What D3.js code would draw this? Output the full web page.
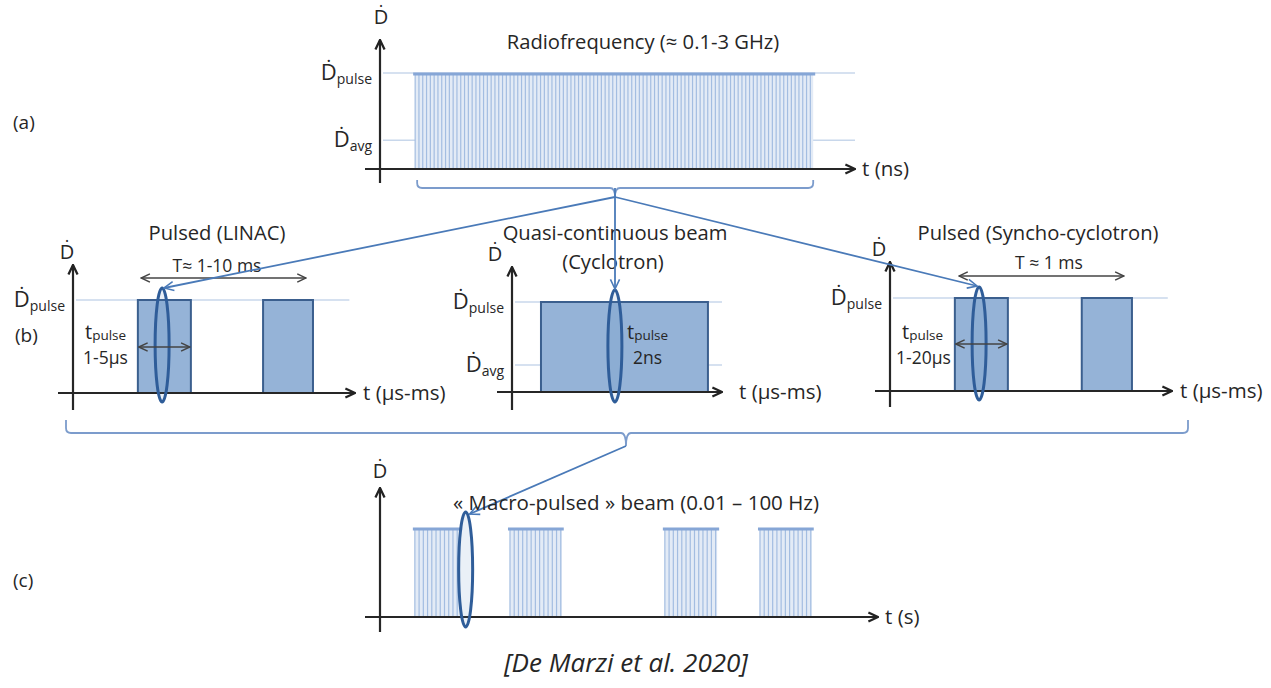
<!DOCTYPE html>
<html>
<head>
<meta charset="utf-8">
<script src="https://cdn.jsdelivr.net/npm/d3@7"></script>
<style>
  body { margin: 0; background: #fff; }
  svg { display: block; }
  text { font-family: "Open Sans", "DejaVu Sans", sans-serif; fill: #262626; }
</style>
</head>
<body>
<svg id="fig"></svg>
<script>
const width = 1271;
const height = 688;

// dose-rate levels, relative to D_pulse
const dosePulse = 1;
const doseAvg = 0.3;

// time positions in axis units (0 = y axis, 100 = arrow tip)
const rfWindow = [[7.4, 91.2]];          // (a) radiofrequency micro-pulses
const rfPeriod = 0.8;
const linacPulses = [[23, 41.8], [67.4, 85.1]];
const cycloPulses = [[13.8, 93.3]];
const synchroPulses = [[23, 41.8], [68, 85.8]];
const macroGroups = [[7, 16.1], [26.1, 36.5], [57.2, 67.7], [76.3, 86.7]];
const macroPeriod = 0.85;

// where the zoom ellipse sits (axis units)
const linacFocus = 31.6;
const cycloFocus = 49;
const synchroFocus = 31.6;
const macroFocus = 17.2;

// period arrows (axis units)
const linacPeriod = [23.8, 83];
const synchroPeriodArrow = [24.1, 83.3];

const svg = d3.select("#fig").attr("width", width).attr("height", height);
const defs = svg.append("defs");

function chevron(id, color, size, sw) {
  defs.append("marker")
    .attr("id", id)
    .attr("viewBox", "0 0 10 10")
    .attr("refX", 9).attr("refY", 5)
    .attr("markerWidth", size).attr("markerHeight", size)
    .attr("markerUnits", "userSpaceOnUse")
    .attr("orient", "auto-start-reverse")
    .append("path")
    .attr("d", "M1,1.2 L9,5 L1,8.8")
    .attr("fill", "none")
    .attr("stroke", color)
    .attr("stroke-width", sw)
    .attr("stroke-linejoin", "miter");
}
chevron("axisArrow", "#222", 12, 1.9);
chevron("dimArrow", "#444", 11, 1.3);
chevron("blueArrow", "#4a7ab8", 12, 1.3);

const axisColor = "#262626";
const refColor = "#c8d7eb";

// panel layout
function makePanel(ox, oy, xTip, yTip, yEnd, yPulse) {
  return {
    ox, oy, yTip, yEnd,
    x: d3.scaleLinear().domain([0, 100]).range([ox, xTip]),
    y: d3.scaleLinear().domain([0, 1]).range([oy, yPulse])
  };
}

const pA = makePanel(380, 169, 855, 40, 183, 73);
const pL = makePanel(73, 393, 355, 265, 410, 300);
const pC = makePanel(512, 392, 722, 267, 410, 302);
const pS = makePanel(890, 391, 1172, 262, 407, 298);
const pM = makePanel(380, 617, 878, 488, 632, 528);

function drawAxes(p, xLabel, xLabelGap, dx, dy) {
  const g = svg.append("g");
  g.append("line")
    .attr("x1", p.x(0) - 15).attr("x2", p.x(100))
    .attr("y1", p.y(0)).attr("y2", p.y(0))
    .attr("stroke", axisColor).attr("stroke-width", 2.2)
    .attr("marker-end", "url(#axisArrow)");
  g.append("line")
    .attr("x1", p.ox).attr("x2", p.ox)
    .attr("y1", p.yEnd).attr("y2", p.yTip)
    .attr("stroke", axisColor).attr("stroke-width", 2.2)
    .attr("marker-end", "url(#axisArrow)");
  g.append("text")
    .attr("x", p.x(100) + xLabelGap).attr("y", p.y(0) + 7)
    .attr("font-size", 20.5)
    .text(xLabel);
  g.append("text")
    .attr("x", p.ox + dx).attr("y", p.yTip + dy)
    .attr("text-anchor", "middle")
    .attr("font-size", 20)
    .text("Ḋ");
}

function doseLabel(p, level, sub, lineEnd) {
  svg.append("line")
    .attr("x1", p.ox + 3).attr("x2", p.x(lineEnd))
    .attr("y1", p.y(level)).attr("y2", p.y(level))
    .attr("stroke", refColor).attr("stroke-width", 1.4);
  const t = svg.append("text")
    .attr("x", p.ox - 8).attr("y", p.y(level) + 7)
    .attr("text-anchor", "end")
    .attr("font-size", 22);
  t.append("tspan").text("Ḋ");
  t.append("tspan").attr("font-size", 14).attr("dy", 4).text(sub);
}

function drawComb(p, windows, period) {
  const g = svg.append("g");
  windows.forEach(([s, e]) => {
    g.append("rect")
      .attr("x", p.x(s)).attr("y", p.y(dosePulse))
      .attr("width", p.x(e) - p.x(s)).attr("height", p.y(0) - p.y(dosePulse))
      .attr("fill", "#e3ebf6");
    g.selectAll(null)
      .data(d3.range(s, e + 1e-6, period))
      .enter().append("line")
      .attr("x1", d => p.x(d)).attr("x2", d => p.x(d))
      .attr("y1", p.y(dosePulse)).attr("y2", p.y(0))
      .attr("stroke", "#a3bde1").attr("stroke-width", 1.2);
    g.append("line")
      .attr("x1", p.x(s) - 2).attr("x2", p.x(e) + 2)
      .attr("y1", p.y(dosePulse) + 1).attr("y2", p.y(dosePulse) + 1)
      .attr("stroke", "#86a6d6").attr("stroke-width", 3);
  });
}

function drawRects(p, pulses) {
  svg.append("g").selectAll("rect")
    .data(pulses)
    .enter().append("rect")
    .attr("x", d => p.x(d[0])).attr("y", p.y(dosePulse))
    .attr("width", d => p.x(d[1]) - p.x(d[0]))
    .attr("height", p.y(0) - p.y(dosePulse))
    .attr("fill", "#95b3d7")
    .attr("stroke", "#3b5f8e").attr("stroke-width", 2);
}

function drawEllipse(p, t, top, bottom) {
  svg.append("ellipse")
    .attr("cx", p.x(t)).attr("cy", (top + bottom) / 2)
    .attr("rx", 7).attr("ry", (bottom - top) / 2)
    .attr("fill", "rgba(79,129,189,0.12)")
    .attr("stroke", "#2f5d99").attr("stroke-width", 3);
}

function dimArrow(p, a, b, yy) {
  svg.append("line")
    .attr("x1", p.x(a) + 1).attr("x2", p.x(b) - 1)
    .attr("y1", yy).attr("y2", yy)
    .attr("stroke", "#444").attr("stroke-width", 1.4)
    .attr("marker-start", "url(#dimArrow)")
    .attr("marker-end", "url(#dimArrow)");
}

function label(x, y, txt, size, anchor, style) {
  return svg.append("text")
    .attr("x", x).attr("y", y)
    .attr("font-size", size)
    .attr("text-anchor", anchor || "middle")
    .attr("font-style", style || "normal")
    .text(txt);
}

function tPulse(x, y, value, vx) {
  const t = svg.append("text").attr("x", x).attr("y", y).attr("font-size", 20);
  t.append("tspan").text("t");
  t.append("tspan").attr("font-size", 13.5).attr("dy", 1).text("pulse");
  label(vx, y + 25, value, 17.5, "start");
}

function bracket(x0, x1, cx, yTop, yMid, yTip) {
  const r = 5;
  const path = d3.path();
  path.moveTo(x0, yTop);
  path.lineTo(x0, yMid - r);
  path.quadraticCurveTo(x0, yMid, x0 + r, yMid);
  path.lineTo(cx - r, yMid);
  path.quadraticCurveTo(cx, yMid, cx, yTip);
  path.quadraticCurveTo(cx, yMid, cx + r, yMid);
  path.lineTo(x1 - r, yMid);
  path.quadraticCurveTo(x1, yMid, x1, yMid - r);
  path.lineTo(x1, yTop);
  svg.append("path").attr("d", path.toString())
    .attr("fill", "none").attr("stroke", "#7c9ccc").attr("stroke-width", 1.8);
}

function connector(x1, y1, x2, y2) {
  svg.append("line")
    .attr("x1", x1).attr("y1", y1).attr("x2", x2).attr("y2", y2)
    .attr("stroke", "#4a7ab8").attr("stroke-width", 1.8)
    .attr("marker-end", "url(#blueArrow)");
}

// ---- (a) radiofrequency
doseLabel(pA, dosePulse, "pulse", 100);
doseLabel(pA, doseAvg, "avg", 100);
drawComb(pA, rfWindow, rfPeriod);
drawAxes(pA, "t (ns)", 7, 1, -16);
label(643, 49, "Radiofrequency (≈ 0.1-3 GHz)", 20.2);
label(13, 129, "(a)", 19, "start");
bracket(pA.x(rfWindow[0][0]) + 2, pA.x(rfWindow[0][1]), 615, 180, 188, 197);

// ---- (b) LINAC
doseLabel(pL, dosePulse, "pulse", 98);
drawRects(pL, linacPulses);
drawAxes(pL, "t (µs-ms)", 8, -6, -6);
drawEllipse(pL, linacFocus, 288, 402);
dimArrow(pL, linacPeriod[0], linacPeriod[1], 278);
label(217, 272, "T≈ 1-10 ms", 17.5);
dimArrow(pL, linacPulses[0][0], linacPulses[0][1], 347);
tPulse(85, 339, "1-5µs", 83);
label(217, 240, "Pulsed (LINAC)", 20.2);
label(15, 342, "(b)", 19, "start");

// ---- (b) Cyclotron
doseLabel(pC, dosePulse, "pulse", 100);
doseLabel(pC, doseAvg, "avg", 100);
drawRects(pC, cycloPulses);
drawAxes(pC, "t (µs-ms)", 17, -17, -6);
drawEllipse(pC, cycloFocus, 290, 402);
tPulse(627, 339, "2ns", 633);
label(615, 240, "Quasi-continuous beam", 20.2);
label(613, 269, "(Cyclotron)", 20.2);

// ---- (b) Synchro-cyclotron
doseLabel(pS, dosePulse, "pulse", 98.5);
drawRects(pS, synchroPulses);
drawAxes(pS, "t (µs-ms)", 8, -11, -6);
drawEllipse(pS, synchroFocus, 287, 400);
dimArrow(pS, synchroPeriodArrow[0], synchroPeriodArrow[1], 276);
label(1049, 269, "T ≈ 1 ms", 17.5);
dimArrow(pS, synchroPulses[0][0], synchroPulses[0][1], 344);
tPulse(902, 339, "1-20µs", 896);
label(1038, 240, "Pulsed (Syncho-cyclotron)", 20.2);

// connectors from (a) to the three (b) panels
connector(615, 197, pL.x(linacFocus) + 2, 288);
connector(615, 188, 615, 289);
connector(615, 197, pS.x(synchroFocus) - 2, 286);

// big bracket under (b)
bracket(66, 1188, 626, 420, 433, 446);
connector(626, 446, pM.x(macroFocus) + 4, 514);

// ---- (c) macro-pulsed
drawComb(pM, macroGroups, macroPeriod);
drawAxes(pM, "t (s)", 7, 0, -10);
drawEllipse(pM, macroFocus, 512, 627);
label(636, 510, "« Macro-pulsed » beam (0.01 – 100 Hz)", 20.5);
label(13, 587, "(c)", 19, "start");

// citation
label(626, 672, "[De Marzi et al. 2020]", 26, "middle", "italic");
</script>
</body>
</html>
